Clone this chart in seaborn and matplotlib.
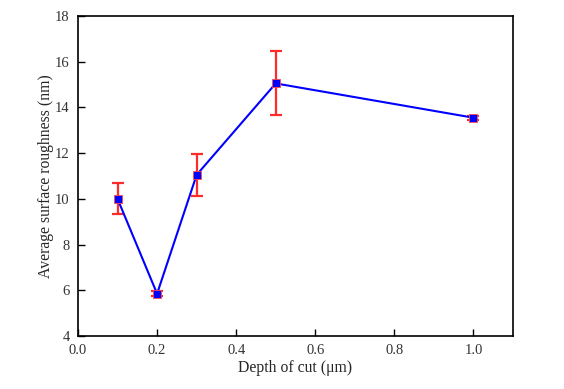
import matplotlib
matplotlib.use('Agg')
import matplotlib.pyplot as plt
import pandas as pd
import seaborn as sns

# data
depth = [0.1, 0.2, 0.3, 0.5, 1.0]
roughness = [10.0, 5.85, 11.05, 15.05, 13.55]
err = [0.68, 0.1, 0.93, 1.4, 0.08]

sns.set_style('ticks')
plt.rcParams['font.family'] = ['Liberation Serif', 'DejaVu Serif']

df = pd.DataFrame({'depth': depth, 'Ra': roughness})

fig = plt.figure(figsize=(5.64, 3.89), dpi=100)
ax = fig.add_axes([78/564, 1 - 336/389, (513-78)/564, (336-16)/389])

ax.errorbar(depth, roughness, yerr=err, fmt='none', ecolor='#ff2a2a',
            elinewidth=1.6, capsize=4, capthick=1.6, zorder=2)
sns.lineplot(data=df, x='depth', y='Ra', color='blue', lw=1.5, marker='s',
             markersize=5.5, markeredgecolor='#ff4a4a', markeredgewidth=0.6,
             ax=ax, zorder=3)

ax.set_xlim(0, 1.1)
ax.set_ylim(4, 18)
ax.set_xticks([0.0, 0.2, 0.4, 0.6, 0.8, 1.0])
ax.set_yticks(range(4, 19, 2))
ax.tick_params(direction='in', length=5, width=1, labelsize=10.5, colors='black', pad=6)
ax.tick_params(axis='x', labelcolor='#333333')
ax.tick_params(axis='y', labelcolor='#333333')
for s in ax.spines.values():
    s.set_linewidth(1.2)
    s.set_color('black')
ax.set_xlabel('Depth of cut (\u03bcm)', fontsize=11.3, labelpad=2)
ax.set_ylabel('Average surface roughness (nm)', fontsize=11.3, labelpad=1)

fig.savefig('out.png', dpi=100)
